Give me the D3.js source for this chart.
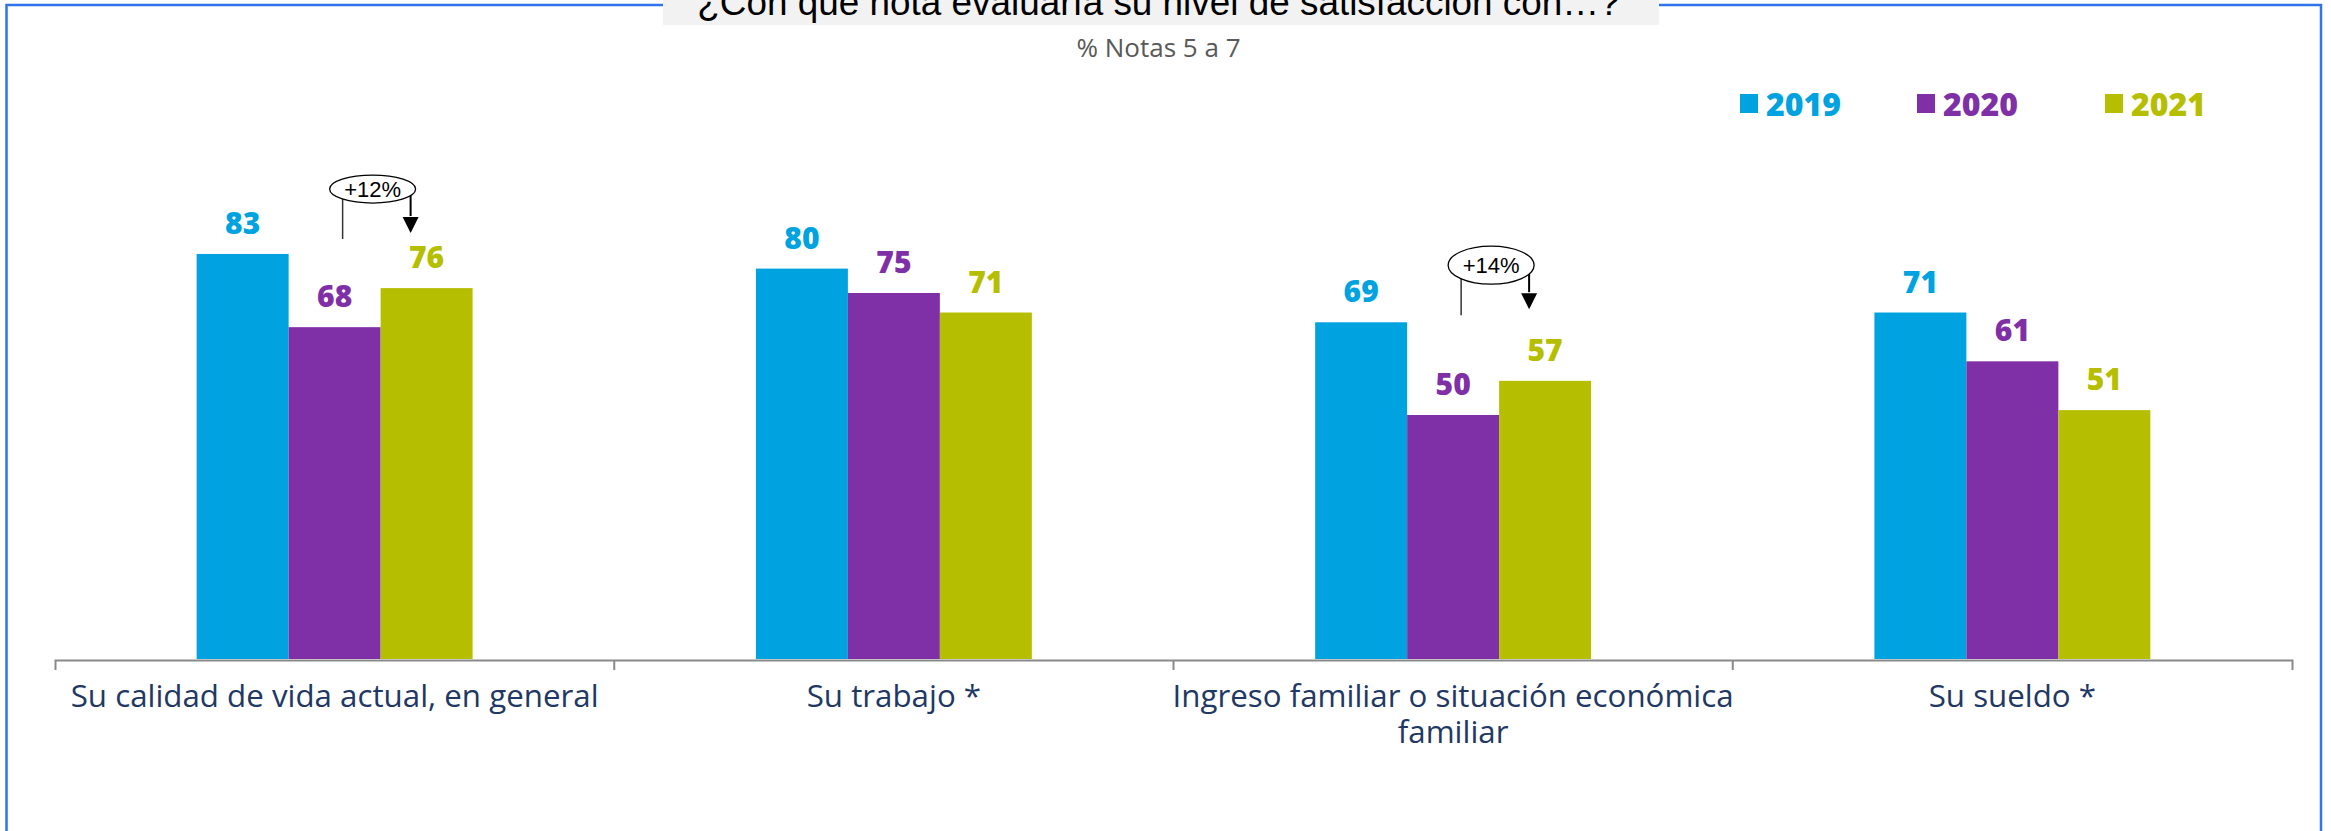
<!DOCTYPE html>
<html><head><meta charset="utf-8">
<script src="https://cdn.jsdelivr.net/npm/d3@7"></script>
<style>body{margin:0;background:#fff;overflow:hidden} svg{display:block}</style>
</head><body>
<script>
// ---- data ----
const categories = ["Su calidad de vida actual, en general", "Su trabajo *", "Ingreso familiar o situación económica familiar", "Su sueldo *"];
const categoryLines = [["Su calidad de vida actual, en general"], ["Su trabajo *"], ["Ingreso familiar o situación económica", "familiar"], ["Su sueldo *"]];
const years = ["2019", "2020", "2021"];
const values2019 = [83, 80, 69, 71];
const values2020 = [68, 75, 50, 61];
const values2021 = [76, 71, 57, 51];
const annotCategories = ["Su calidad de vida actual, en general", "Ingreso familiar o situación económica familiar"];
const annotLabels = ["+12%", "+14%"];
const annotLevels = [96.3, 80.7];
const titleText = "¿Con qué nota evaluaría su nivel de satisfacción con…?";
const subtitleText = "% Notas 5 a 7";

// ---- styles ----
const W = 2331, H = 831;
const colors = {"2019": "#00A3E0", "2020": "#8030A6", "2021": "#B6BE00"};
const seriesValues = {"2019": values2019, "2020": values2020, "2021": values2021};

const svg = d3.select("body").append("svg").attr("width", W).attr("height", H);

// frame
svg.append("rect").attr("x", 6.5).attr("y", 5).attr("width", 2314.5).attr("height", H + 20)
  .attr("fill", "none").attr("stroke", "#2F74EA").attr("stroke-width", 2.5);

// title box
svg.append("rect").attr("x", 663).attr("y", 0).attr("width", 996).attr("height", 25).attr("fill", "#F2F2F2");
const title = svg.append("text").attr("x", 1158.5).attr("y", 15).attr("text-anchor", "middle")
  .style("font-family", "'Liberation Sans', Arial, sans-serif").style("font-size", "100px").attr("fill", "#000").text(titleText);
{ const w = title.node().getComputedTextLength(); title.style("font-size", (100 * 923 / w) + "px"); }

svg.append("text").attr("x", 1158.5).attr("y", 57).attr("text-anchor", "middle")
  .style("font-family", "'Open Sans', sans-serif").style("font-size", "26px").attr("fill", "#595959").text(subtitleText);

// scales
const x0 = d3.scaleBand().domain(categories).range([55, 2292]).paddingInner(0).paddingOuter(0);
const x1 = d3.scaleBand().domain(years).range([0, x0.bandwidth()]).paddingInner(0).paddingOuter(1.54);
const y = d3.scaleLinear().domain([0, 100]).range([659, 171]);

// bars
const data = [];
categories.forEach((c, i) => years.forEach(yr => data.push({c, yr, v: seriesValues[yr][i]})));
svg.append("g").selectAll("rect").data(data).join("rect")
  .attr("x", d => x0(d.c) + x1(d.yr)).attr("width", x1.bandwidth())
  .attr("y", d => y(d.v)).attr("height", d => y(0) - y(d.v))
  .attr("fill", d => colors[d.yr]);

// data labels
svg.append("g").selectAll("text").data(data).join("text")
  .attr("x", d => x0(d.c) + x1(d.yr) + x1.bandwidth() / 2)
  .attr("y", d => y(d.v) - 20).attr("text-anchor", "middle")
  .style("font-family", "'Open Sans', sans-serif").style("font-weight", 800).style("font-size", "30px")
  .attr("fill", d => colors[d.yr]).text(d => d.v);

// axis
const axisG = svg.append("g").attr("transform", "translate(0,660)")
  .call(d3.axisBottom(x0).tickSize(0).tickSizeOuter(10).tickFormat(""));
axisG.select(".domain").attr("stroke", "#898989").attr("stroke-width", 2);
axisG.selectAll(".bound").data(categories.slice(1)).join("line").attr("class", "bound")
  .attr("x1", d => x0(d)).attr("x2", d => x0(d)).attr("y1", 0).attr("y2", 10)
  .attr("stroke", "#898989").attr("stroke-width", 2);

// category labels
const catG = svg.append("g");
categories.forEach((c, i) => {
  const t = catG.append("text").attr("x", x0(c) + x0.bandwidth() / 2).attr("y", 707).attr("text-anchor", "middle")
    .style("font-family", "'Open Sans', sans-serif").style("font-size", "26px").attr("fill", "#1F3864");
  categoryLines[i].forEach((ln, j) => t.append("tspan").attr("x", x0(c) + x0.bandwidth() / 2).attr("dy", j === 0 ? 0 : 36).text(ln));
});
{ const first = catG.select("text tspan").node().getComputedTextLength();
  catG.selectAll("text").style("font-size", (26 * 528 / first) + "px"); }

// legend
const legendX = [1740, 1917, 2105];
const lg = svg.append("g");
years.forEach((yr, i) => {
  lg.append("rect").attr("x", legendX[i]).attr("y", 94).attr("width", 18).attr("height", 19).attr("fill", colors[yr]);
  lg.append("text").attr("x", legendX[i] + 26).attr("y", 116)
    .style("font-family", "'Open Sans', sans-serif").style("font-weight", 800).style("font-size", "32px")
    .attr("fill", colors[yr]).text(yr);
});

// annotations
const annRy = [14, 19];
annotCategories.forEach((c, i) => {
  const xa = x0(c) + x1("2020") + x1.bandwidth() / 2 + 8;
  const xb = x0(c) + x1("2021") + x1.bandwidth() / 2 - 16;
  const cx = (xa + xb) / 2 - 4, cy = y(annotLevels[i]);
  const g = svg.append("g");
  g.append("line").attr("x1", xa).attr("x2", xa).attr("y1", cy).attr("y2", cy + 50).attr("stroke", "#333").attr("stroke-width", 1.5);
  g.append("line").attr("x1", xb).attr("x2", xb).attr("y1", cy).attr("y2", cy + 27).attr("stroke", "#000").attr("stroke-width", 2);
  g.append("path").attr("d", `M${xb - 8},${cy + 28}L${xb + 8},${cy + 28}L${xb},${cy + 44}Z`).attr("fill", "#000");
  g.append("ellipse").attr("cx", cx).attr("cy", cy).attr("rx", 43).attr("ry", annRy[i])
    .attr("fill", "#fff").attr("stroke", "#000").attr("stroke-width", 1.3);
  g.append("text").attr("x", cx).attr("y", cy + 7.5).attr("text-anchor", "middle")
    .style("font-family", "'Liberation Sans', Arial, sans-serif").style("font-size", "22px").attr("fill", "#000").text(annotLabels[i]);
});
</script>
</body></html>
